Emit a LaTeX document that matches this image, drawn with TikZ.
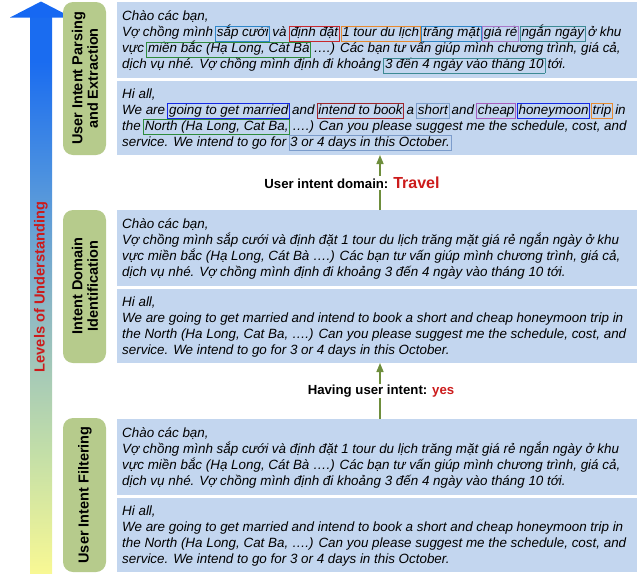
\documentclass[tikz,border=0pt]{standalone}
\usepackage{fontspec}
\setmainfont{Liberation Sans}
\usetikzlibrary{arrows.meta}
\definecolor{panelblue}{HTML}{C3D6EF}
\definecolor{labgreen}{HTML}{B6CB8C}
\definecolor{arrgreen}{HTML}{6E8E3C}
\definecolor{headblue}{HTML}{1668F2}
\definecolor{lvblue}{HTML}{1A6CF0}
\definecolor{lvlblue}{HTML}{4A90E0}
\definecolor{lvteal}{HTML}{8DB8C4}
\definecolor{lvgreen}{HTML}{C2DEA8}
\definecolor{lvyellow}{HTML}{F8F894}
\definecolor{lvred}{HTML}{CC1B1B}
\definecolor{bxblue}{HTML}{2E86C8}
\definecolor{bxred}{HTML}{C8282C}
\definecolor{bxorange}{HTML}{E88A2E}
\definecolor{bxpurple}{HTML}{A878C8}
\definecolor{bxteal}{HTML}{3C8A94}
\definecolor{bxgreen}{HTML}{2E8B3C}
\definecolor{bxdblue}{HTML}{1428E6}
\definecolor{bxdred}{HTML}{A0242A}
\definecolor{bxsteel}{HTML}{7C9CCB}
\definecolor{bxviolet}{HTML}{A55CC0}
\pgfdeclareverticalshading{levels}{100bp}{color(0bp)=(lvyellow); color(25bp)=(lvyellow); color(36bp)=(lvgreen); color(49bp)=(lvteal); color(61bp)=(lvlblue); color(71bp)=(lvblue); color(100bp)=(lvblue)}
\newcommand\hb[2]{\kern-1.5pt\relax{\color{#1}\setlength\fboxsep{0.8pt}\setlength\fboxrule{0.9pt}\fbox{\color{black}\rule[-3.3pt]{0pt}{12.6pt}\smash{#2}}}\kern-1.5pt\relax}
\begin{document}
\begin{tikzpicture}[x=1pt,y=-1pt,
  panel/.style={fill=panelblue,draw=none,inner sep=0,outer sep=0,minimum width=520pt,anchor=north west},
  greenbox/.style={fill=labgreen,draw=none,rounded corners=10pt},
  greenlab/.style={rotate=90,align=center,inner sep=0,font=\fontsize{14.5}{15.5}\selectfont\bfseries},
  txt/.style={anchor=base west,inner sep=0,font=\fontsize{13.4}{16}\selectfont\itshape},
  lbl/.style={fill=white,inner sep=1pt,font=\fontsize{13.2}{15}\selectfont\bfseries},
  uparrow/.style={draw=arrgreen,line width=1.5pt,-{Triangle[width=7pt,length=9pt]}}]
\useasboundingbox (0,0) rectangle (637,573);
% big levels arrow
\shade[shading=levels] (30,17) rectangle (52,573);
\fill[headblue] (10,17.5) -- (41,1.5) -- (72,17.5) -- cycle;
\node[rotate=90,inner sep=0,text=lvred,font=\fontsize{14.6}{16}\selectfont\bfseries] (lev) at (41,287) {Levels of Understanding};
% green label boxes
\fill[greenbox] (63,2) rectangle (106,155);
\fill[greenbox] (63,210) rectangle (106,363);
\fill[greenbox] (63,418) rectangle (106,572);
\node[greenlab] (g1) at (85,78.5) {User Intent Parsing\\and Extraction};
\node[greenlab] (g2) at (85,286) {Intent Domain\\Identification};
\node[greenlab] (g3) at (85,495) {User Intent Filtering};
% panels
\node[panel,minimum height=76pt] (pVN1) at (117,2) {};
\node[panel,minimum height=74pt] (pEN1) at (117,81) {};
\node[panel,minimum height=76pt] (pVN2) at (117,210) {};
\node[panel,minimum height=74pt] (pEN2) at (117,289) {};
\node[panel,minimum height=76pt] (pVN3) at (117,419) {};
\node[panel,minimum height=74pt] (pEN3) at (117,498) {};
% annotated top texts
\node[txt] (v1a) at (122,20.5) {Chào các bạn,};
\node[txt] (v1b) at (122,36.5) {Vợ chồng mình \hb{bxblue}{sắp cưới} và \hb{bxred}{định đặt} \hb{bxorange}{1 tour du lịch} \hb{bxblue}{trăng mặt} \hb{bxpurple}{giá rẻ} \hb{bxteal}{ngắn ngày} ở khu};
\node[txt] (v1c) at (122,52.5) {vực \hb{bxgreen}{miền bắc (Hạ Long, Cát Bà} ….) Các bạn tư vấn giúp mình chương trình, giá cả,};
\node[txt] (v1d) at (122,68.5) {dịch vụ nhé. Vợ chồng mình định đi khoảng \hb{bxteal}{3 đến 4 ngày vào tháng 10} tới.};
\node[txt] (e1a) at (122,98) {Hi all,};
\node[txt] (e1b) at (122,114) {We are \hb{bxdblue}{going to get married} and \hb{bxdred}{intend to book} a \hb{bxsteel}{short} and \hb{bxviolet}{cheap} \hb{bxdblue}{honeymoon} \hb{bxorange}{trip} in};
\node[txt] (e1c) at (122,130) {the \hb{bxgreen}{North (Ha Long, Cat Ba,} ….) Can you please suggest me the schedule, cost, and};
\node[txt] (e1d) at (122,146) {service. We intend to go for \hb{bxsteel}{3 or 4 days in this October.}};
% plain texts
\foreach \g/\vt/\et in {2/210/289,3/419/498}{
  \node[txt] (v\g a) at (122,\vt+18.5) {Chào các bạn,};
  \node[txt] (v\g b) at (122,\vt+34.5) {Vợ chồng mình sắp cưới và định đặt 1 tour du lịch trăng mặt giá rẻ ngắn ngày ở khu};
  \node[txt] (v\g c) at (122,\vt+50.5) {vực miền bắc (Hạ Long, Cát Bà ….) Các bạn tư vấn giúp mình chương trình, giá cả,};
  \node[txt] (v\g d) at (122,\vt+66.5) {dịch vụ nhé. Vợ chồng mình định đi khoảng 3 đến 4 ngày vào tháng 10 tới.};
  \node[txt] (e\g a) at (122,\et+17) {Hi all,};
  \node[txt] (e\g b) at (122,\et+33) {We are going to get married and intend to book a short and cheap honeymoon trip in};
  \node[txt] (e\g c) at (122,\et+49) {the North (Ha Long, Cat Ba, ….) Can you please suggest me the schedule, cost, and};
  \node[txt] (e\g d) at (122,\et+65) {service. We intend to go for 3 or 4 days in this October.};
}
% arrows between stages
\coordinate (ax) at (380,0);
\draw[uparrow] (ax |- pVN2.north) -- (ax |- pEN1.south);
\draw[uparrow] (ax |- pVN3.north) -- (ax |- pEN2.south);
\node[lbl] (lab1) at (352,183) {User intent domain: {\color{lvred}\fontsize{16}{16}\selectfont Travel}};
\node[lbl] (lab2) at (381,391) {Having user intent: {\color{lvred}yes}};
\end{tikzpicture}
\end{document}
